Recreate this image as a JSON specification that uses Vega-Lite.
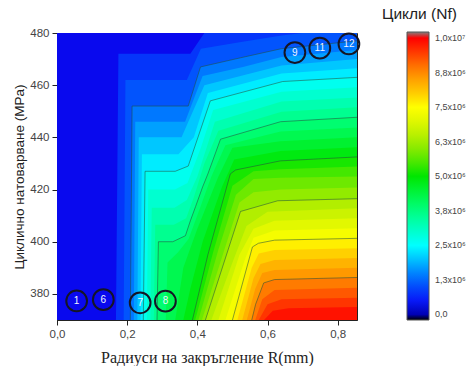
{
  "$schema": "https://vega.github.io/schema/vega-lite/v6.json",
  "width": 300,
  "height": 287,
  "autosize": {"type": "none"},
  "padding": {"left": 57, "top": 33, "right": 116, "bottom": 46},
  "background": "white",
  "title": {"text": "Цикли (Nf)", "anchor": "start", "frame": "group", "dx": 325, "offset": 5, "fontSize": 15.5, "fontWeight": "normal", "font": "Liberation Sans", "color": "#222"},
  "config": {
    "view": {"stroke": "#222", "strokeWidth": 1},
    "axis": {"grid": false, "domainColor": "#222", "tickColor": "#222", "labelColor": "#444", "labelFont": "Liberation Sans", "labelFontSize": 11.5, "titleColor": "#222", "titleFontWeight": "normal"}
  },
  "datasets": {
    "contours": [
      {"M": 0.3125, "R": 0, "S": 480}, {"M": 0.3125, "R": 0.855, "S": 480},
      {"M": 0.78125, "R": 0, "S": 370}, {"M": 0.78125, "R": 0.168, "S": 370}, {"M": 0.78125, "R": 0.175, "S": 472}, {"M": 0.78125, "R": 0.38, "S": 472}, {"M": 0.78125, "R": 0.42, "S": 480}, {"M": 0.78125, "R": 0.855, "S": 480},
      {"M": 1.09375, "R": 0, "S": 370}, {"M": 1.09375, "R": 0.19, "S": 370}, {"M": 1.09375, "R": 0.195, "S": 462}, {"M": 1.09375, "R": 0.37, "S": 462}, {"M": 1.09375, "R": 0.41, "S": 474}, {"M": 1.09375, "R": 0.52, "S": 476.5}, {"M": 1.09375, "R": 0.64, "S": 479}, {"M": 1.09375, "R": 0.7, "S": 480}, {"M": 1.09375, "R": 0.855, "S": 480},
      {"M": 1.40625, "R": 0, "S": 370}, {"M": 1.40625, "R": 0.209, "S": 370}, {"M": 1.40625, "R": 0.214, "S": 452}, {"M": 1.40625, "R": 0.374, "S": 452}, {"M": 1.40625, "R": 0.409, "S": 467}, {"M": 1.40625, "R": 0.523, "S": 470.5}, {"M": 1.40625, "R": 0.64, "S": 474}, {"M": 1.40625, "R": 0.855, "S": 477},
      {"M": 1.71875, "R": 0, "S": 370}, {"M": 1.71875, "R": 0.219, "S": 370}, {"M": 1.71875, "R": 0.223, "S": 446}, {"M": 1.71875, "R": 0.365, "S": 446}, {"M": 1.71875, "R": 0.415, "S": 463.5}, {"M": 1.71875, "R": 0.53, "S": 467}, {"M": 1.71875, "R": 0.64, "S": 470.8}, {"M": 1.71875, "R": 0.855, "S": 473.5},
      {"M": 2.03125, "R": 0, "S": 370}, {"M": 2.03125, "R": 0.229, "S": 370}, {"M": 2.03125, "R": 0.233, "S": 440}, {"M": 2.03125, "R": 0.355, "S": 440}, {"M": 2.03125, "R": 0.42, "S": 460}, {"M": 2.03125, "R": 0.64, "S": 467.5}, {"M": 2.03125, "R": 0.855, "S": 470},
      {"M": 2.34375, "R": 0, "S": 370}, {"M": 2.34375, "R": 0.238, "S": 370}, {"M": 2.34375, "R": 0.242, "S": 433.5}, {"M": 2.34375, "R": 0.346, "S": 433.5}, {"M": 2.34375, "R": 0.39, "S": 440}, {"M": 2.34375, "R": 0.43, "S": 457}, {"M": 2.34375, "R": 0.64, "S": 464.5}, {"M": 2.34375, "R": 0.855, "S": 466.5},
      {"M": 2.65625, "R": 0, "S": 370}, {"M": 2.65625, "R": 0.246, "S": 370}, {"M": 2.65625, "R": 0.251, "S": 427}, {"M": 2.65625, "R": 0.337, "S": 427}, {"M": 2.65625, "R": 0.374, "S": 429}, {"M": 2.65625, "R": 0.437, "S": 454}, {"M": 2.65625, "R": 0.643, "S": 461.4}, {"M": 2.65625, "R": 0.855, "S": 463},
      {"M": 2.96875, "R": 0, "S": 370}, {"M": 2.96875, "R": 0.256, "S": 370}, {"M": 2.96875, "R": 0.26, "S": 420}, {"M": 2.96875, "R": 0.336, "S": 420}, {"M": 2.96875, "R": 0.372, "S": 422.5}, {"M": 2.96875, "R": 0.41, "S": 436}, {"M": 2.96875, "R": 0.445, "S": 450.5}, {"M": 2.96875, "R": 0.64, "S": 457.5}, {"M": 2.96875, "R": 0.855, "S": 459.2},
      {"M": 3.28125, "R": 0, "S": 370}, {"M": 3.28125, "R": 0.266, "S": 370}, {"M": 3.28125, "R": 0.27, "S": 413}, {"M": 3.28125, "R": 0.335, "S": 413}, {"M": 3.28125, "R": 0.37, "S": 416}, {"M": 3.28125, "R": 0.4, "S": 425}, {"M": 3.28125, "R": 0.45, "S": 446}, {"M": 3.28125, "R": 0.64, "S": 453.7}, {"M": 3.28125, "R": 0.855, "S": 455.3},
      {"M": 3.59375, "R": 0, "S": 370}, {"M": 3.59375, "R": 0.276, "S": 370}, {"M": 3.59375, "R": 0.28, "S": 406.5}, {"M": 3.59375, "R": 0.333, "S": 406.5}, {"M": 3.59375, "R": 0.368, "S": 409}, {"M": 3.59375, "R": 0.39, "S": 417}, {"M": 3.59375, "R": 0.42, "S": 430}, {"M": 3.59375, "R": 0.46, "S": 442.5}, {"M": 3.59375, "R": 0.64, "S": 449.8}, {"M": 3.59375, "R": 0.855, "S": 451.5},
      {"M": 3.90625, "R": 0, "S": 370}, {"M": 3.90625, "R": 0.285, "S": 370}, {"M": 3.90625, "R": 0.289, "S": 400}, {"M": 3.90625, "R": 0.33, "S": 400}, {"M": 3.90625, "R": 0.366, "S": 402.3}, {"M": 3.90625, "R": 0.38, "S": 408}, {"M": 3.90625, "R": 0.395, "S": 413.5}, {"M": 3.90625, "R": 0.415, "S": 421}, {"M": 3.90625, "R": 0.43, "S": 426}, {"M": 3.90625, "R": 0.466, "S": 439.3}, {"M": 3.90625, "R": 0.637, "S": 446}, {"M": 3.90625, "R": 0.855, "S": 447.7},
      {"M": 4.21875, "R": 0, "S": 370}, {"M": 4.21875, "R": 0.31, "S": 370}, {"M": 4.21875, "R": 0.315, "S": 392}, {"M": 4.21875, "R": 0.345, "S": 396}, {"M": 4.21875, "R": 0.375, "S": 401}, {"M": 4.21875, "R": 0.405, "S": 412}, {"M": 4.21875, "R": 0.44, "S": 425}, {"M": 4.21875, "R": 0.48, "S": 437}, {"M": 4.21875, "R": 0.637, "S": 442.2}, {"M": 4.21875, "R": 0.855, "S": 443.8},
      {"M": 4.53125, "R": 0, "S": 370}, {"M": 4.53125, "R": 0.337, "S": 370}, {"M": 4.53125, "R": 0.36, "S": 390}, {"M": 4.53125, "R": 0.4, "S": 405}, {"M": 4.53125, "R": 0.46, "S": 425}, {"M": 4.53125, "R": 0.5, "S": 436}, {"M": 4.53125, "R": 0.637, "S": 438.5}, {"M": 4.53125, "R": 0.855, "S": 440},
      {"M": 4.84375, "R": 0, "S": 370}, {"M": 4.84375, "R": 0.36, "S": 370}, {"M": 4.84375, "R": 0.38, "S": 382}, {"M": 4.84375, "R": 0.415, "S": 400}, {"M": 4.84375, "R": 0.47, "S": 421}, {"M": 4.84375, "R": 0.505, "S": 431.5}, {"M": 4.84375, "R": 0.637, "S": 434.8}, {"M": 4.84375, "R": 0.855, "S": 436.2},
      {"M": 5.15625, "R": 0, "S": 370}, {"M": 5.15625, "R": 0.386, "S": 370}, {"M": 5.15625, "R": 0.43, "S": 395}, {"M": 5.15625, "R": 0.494, "S": 426}, {"M": 5.15625, "R": 0.509, "S": 427.5}, {"M": 5.15625, "R": 0.637, "S": 431}, {"M": 5.15625, "R": 0.855, "S": 432.5},
      {"M": 5.46875, "R": 0, "S": 370}, {"M": 5.46875, "R": 0.394, "S": 370}, {"M": 5.46875, "R": 0.445, "S": 396}, {"M": 5.46875, "R": 0.5, "S": 421.5}, {"M": 5.46875, "R": 0.56, "S": 427}, {"M": 5.46875, "R": 0.637, "S": 427.8}, {"M": 5.46875, "R": 0.855, "S": 428.8},
      {"M": 5.78125, "R": 0, "S": 370}, {"M": 5.78125, "R": 0.403, "S": 370}, {"M": 5.78125, "R": 0.46, "S": 397}, {"M": 5.78125, "R": 0.51, "S": 418}, {"M": 5.78125, "R": 0.56, "S": 424}, {"M": 5.78125, "R": 0.637, "S": 424.5}, {"M": 5.78125, "R": 0.855, "S": 425},
      {"M": 6.09375, "R": 0, "S": 370}, {"M": 6.09375, "R": 0.413, "S": 370}, {"M": 6.09375, "R": 0.47, "S": 394}, {"M": 6.09375, "R": 0.52, "S": 415}, {"M": 6.09375, "R": 0.56, "S": 419}, {"M": 6.09375, "R": 0.637, "S": 420}, {"M": 6.09375, "R": 0.855, "S": 420.8},
      {"M": 6.40625, "R": 0, "S": 370}, {"M": 6.40625, "R": 0.423, "S": 370}, {"M": 6.40625, "R": 0.523, "S": 411.6}, {"M": 6.40625, "R": 0.629, "S": 415.7}, {"M": 6.40625, "R": 0.855, "S": 416.5},
      {"M": 6.71875, "R": 0, "S": 370}, {"M": 6.71875, "R": 0.44, "S": 370}, {"M": 6.71875, "R": 0.5, "S": 392}, {"M": 6.71875, "R": 0.54, "S": 406}, {"M": 6.71875, "R": 0.6, "S": 411.5}, {"M": 6.71875, "R": 0.855, "S": 412.8},
      {"M": 7.03125, "R": 0, "S": 370}, {"M": 7.03125, "R": 0.46, "S": 370}, {"M": 7.03125, "R": 0.52, "S": 395}, {"M": 7.03125, "R": 0.56, "S": 405}, {"M": 7.03125, "R": 0.62, "S": 408}, {"M": 7.03125, "R": 0.855, "S": 409},
      {"M": 7.34375, "R": 0, "S": 370}, {"M": 7.34375, "R": 0.48, "S": 370}, {"M": 7.34375, "R": 0.535, "S": 393}, {"M": 7.34375, "R": 0.56, "S": 401.5}, {"M": 7.34375, "R": 0.62, "S": 404.3}, {"M": 7.34375, "R": 0.855, "S": 405.2},
      {"M": 7.65625, "R": 0, "S": 370}, {"M": 7.65625, "R": 0.5, "S": 370}, {"M": 7.65625, "R": 0.557, "S": 398}, {"M": 7.65625, "R": 0.574, "S": 399.4}, {"M": 7.65625, "R": 0.62, "S": 400.6}, {"M": 7.65625, "R": 0.855, "S": 401.3},
      {"M": 7.96875, "R": 0, "S": 370}, {"M": 7.96875, "R": 0.514, "S": 370}, {"M": 7.96875, "R": 0.555, "S": 390}, {"M": 7.96875, "R": 0.575, "S": 395.5}, {"M": 7.96875, "R": 0.62, "S": 396.8}, {"M": 7.96875, "R": 0.855, "S": 397.5},
      {"M": 8.28125, "R": 0, "S": 370}, {"M": 8.28125, "R": 0.528, "S": 370}, {"M": 8.28125, "R": 0.56, "S": 386}, {"M": 8.28125, "R": 0.58, "S": 391.5}, {"M": 8.28125, "R": 0.62, "S": 393}, {"M": 8.28125, "R": 0.855, "S": 393.8},
      {"M": 8.59375, "R": 0, "S": 370}, {"M": 8.59375, "R": 0.541, "S": 370}, {"M": 8.59375, "R": 0.565, "S": 382}, {"M": 8.59375, "R": 0.585, "S": 388}, {"M": 8.59375, "R": 0.62, "S": 389.2}, {"M": 8.59375, "R": 0.855, "S": 390},
      {"M": 8.90625, "R": 0, "S": 370}, {"M": 8.90625, "R": 0.555, "S": 370}, {"M": 8.90625, "R": 0.566, "S": 376}, {"M": 8.90625, "R": 0.589, "S": 384.2}, {"M": 8.90625, "R": 0.62, "S": 385.5}, {"M": 8.90625, "R": 0.855, "S": 386.3},
      {"M": 9.21875, "R": 0, "S": 370}, {"M": 9.21875, "R": 0.565, "S": 370}, {"M": 9.21875, "R": 0.585, "S": 378}, {"M": 9.21875, "R": 0.62, "S": 381.5}, {"M": 9.21875, "R": 0.855, "S": 382.4},
      {"M": 9.53125, "R": 0, "S": 370}, {"M": 9.53125, "R": 0.575, "S": 370}, {"M": 9.53125, "R": 0.6, "S": 376}, {"M": 9.53125, "R": 0.64, "S": 378}, {"M": 9.53125, "R": 0.855, "S": 378.5},
      {"M": 9.84375, "R": 0, "S": 370}, {"M": 9.84375, "R": 0.59, "S": 370}, {"M": 9.84375, "R": 0.615, "S": 373.5}, {"M": 9.84375, "R": 0.66, "S": 374.5}, {"M": 9.84375, "R": 0.855, "S": 375}
    ],
    "samples": [
      {"id": "1", "R": 0.056, "S": 377.3},
      {"id": "6", "R": 0.132, "S": 377.8},
      {"id": "7", "R": 0.237, "S": 376.6},
      {"id": "8", "R": 0.309, "S": 377.2},
      {"id": "9", "R": 0.678, "S": 472.5},
      {"id": "11", "R": 0.749, "S": 474.2},
      {"id": "12", "R": 0.832, "S": 475.8}
    ]
  },
  "layer": [
    {
      "data": {"name": "contours"},
      "mark": {"type": "area", "clip": true, "interpolate": "linear"},
      "encoding": {
        "x": {"field": "R", "type": "quantitative", "scale": {"domain": [0, 0.855], "nice": false, "zero": false},
          "axis": {"values": [0, 0.05, 0.1, 0.15, 0.2, 0.25, 0.3, 0.35, 0.4, 0.45, 0.5, 0.55, 0.6, 0.65, 0.7, 0.75, 0.8],
            "labelExpr": "abs(datum.value*10 - round(datum.value*10)) < 0.001 ? replace(format(datum.value, '.1f'), '.', ',') : ''",
            "tickSize": {"condition": {"test": "abs(datum.value*10 - round(datum.value*10)) < 0.001", "value": 5}, "value": 3},
            "labelFlush": false, "labelOverlap": false, "labelPadding": 3,
            "title": "Радиуси на закръгление R(mm)", "titleFont": "Liberation Serif", "titleFontSize": 16, "titlePadding": 10}},
        "y": {"field": "S", "type": "quantitative", "stack": null, "scale": {"domain": [370, 480], "nice": false, "zero": false},
          "axis": {"values": [380, 390, 400, 410, 420, 430, 440, 450, 460, 470, 480],
            "labelExpr": "datum.value % 20 == 0 ? datum.label : ''",
            "tickSize": {"condition": {"test": "datum.value % 20 == 0", "value": 5}, "value": 3},
            "labelFlush": false, "labelOverlap": false, "labelPadding": 3,
            "title": "Циклично натоварване (MPa)", "titleFont": "Liberation Sans", "titleFontSize": 13.5, "titlePadding": 3}},
        "y2": {"datum": 370},
        "detail": {"field": "M", "type": "nominal"},
        "color": {"field": "M", "type": "quantitative",
          "scale": {"domain": [-0.2, -0.01, 0, 0.35, 1.25, 1.875, 2.5, 3.125, 3.75, 4.375, 5.0, 5.625, 6.25, 6.875, 7.5, 8.125, 8.75, 9.375, 10, 10.01, 10.22],
            "range": ["#000000", "#000000", "#0000b4", "#0a0af5", "#0064ff", "#00b4ff", "#00ffff", "#00ffc0", "#00ff80", "#00f540", "#00e600", "#5ae800", "#a5ec00", "#d8f500", "#ffff00", "#ffc000", "#ff8c00", "#ff4600", "#ff0000", "#808080", "#808080"],
            "interpolate": "rgb"},
          "legend": {"orient": "none", "legendX": 350, "legendY": -1, "title": null, "padding": 0,
            "direction": "vertical", "gradientLength": 288, "gradientThickness": 22,
            "gradientStrokeColor": "#555", "gradientStrokeWidth": 1,
            "values": [0, 1.25, 2.5, 3.75, 5, 6.25, 7.5, 8.75, 10],
            "labelExpr": "datum.value >= 10 ? '1,0x10⁷' : (datum.value == 0 ? '0,0' : replace(format(datum.value, '.1f'), '.', ',') + 'x10⁶')",
            "labelOverlap": false, "labelFont": "Liberation Sans", "labelFontSize": 9, "labelColor": "#444", "labelOffset": 6}}
      }
    },
    {
      "data": {"name": "contours"},
      "transform": [{"filter": "datum.R > 0 && datum.M > 1 && datum.M % 1.25 == 0.15625"}],
      "mark": {"type": "line", "clip": true, "stroke": "#24503c", "strokeWidth": 0.9, "opacity": 0.6},
      "encoding": {
        "x": {"field": "R", "type": "quantitative"},
        "y": {"field": "S", "type": "quantitative"},
        "detail": {"field": "M", "type": "nominal"}
      }
    },
    {
      "data": {"name": "samples"},
      "mark": {"type": "point", "shape": "circle", "filled": false, "size": 430, "stroke": "#151525", "strokeWidth": 2, "opacity": 1},
      "encoding": {
        "x": {"field": "R", "type": "quantitative"},
        "y": {"field": "S", "type": "quantitative"}
      }
    },
    {
      "data": {"name": "samples"},
      "mark": {"type": "text", "color": "#eef3ff", "fontSize": 10, "font": "Liberation Sans", "align": "center", "baseline": "middle"},
      "encoding": {
        "x": {"field": "R", "type": "quantitative"},
        "y": {"field": "S", "type": "quantitative"},
        "text": {"field": "id"}
      }
    }
  ]
}
